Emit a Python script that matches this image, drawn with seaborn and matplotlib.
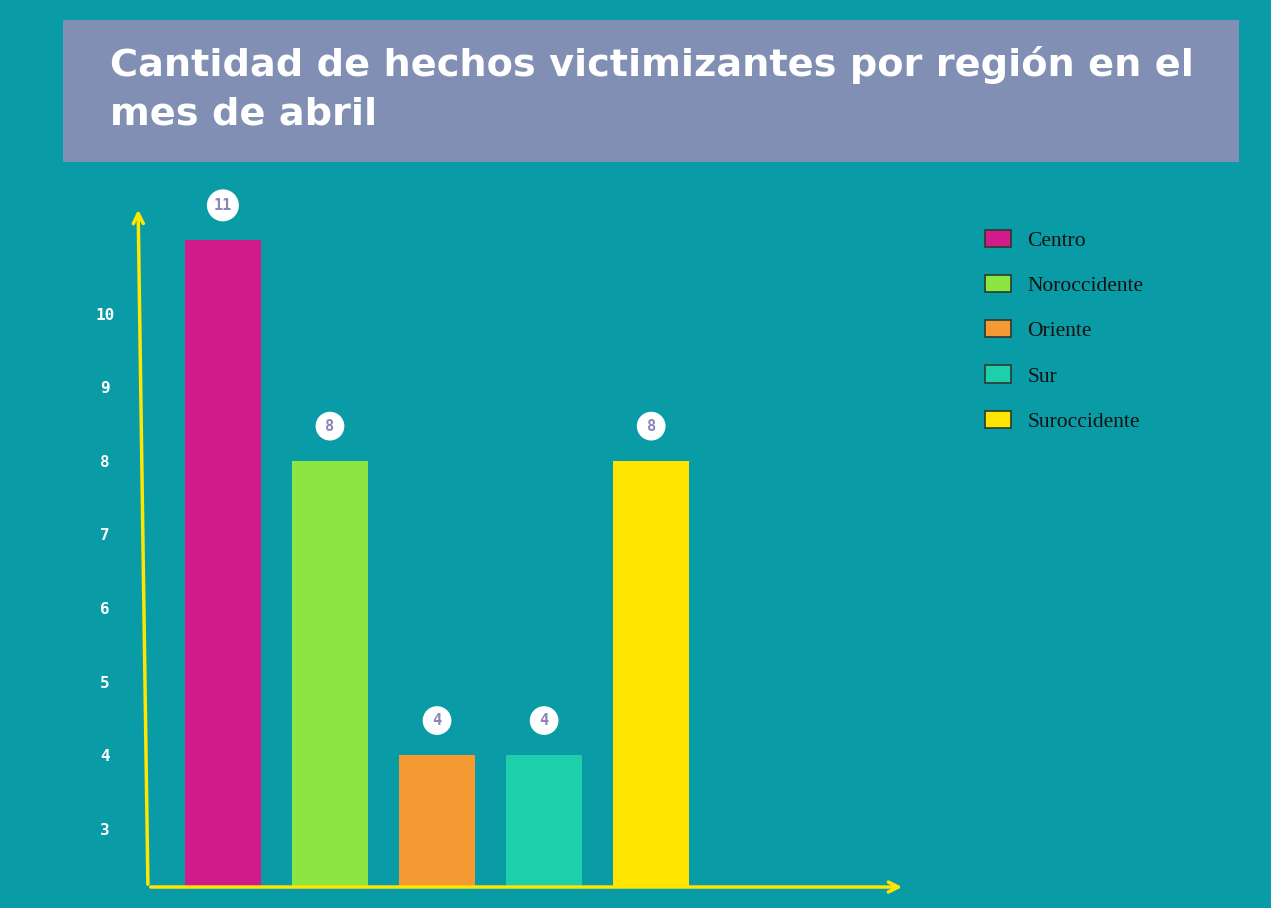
import matplotlib
matplotlib.use("Agg")
import matplotlib.pyplot as plt
from matplotlib.patches import Patch, Rectangle
import pandas as pd
import seaborn as sns

regions = ["Centro", "Noroccidente", "Oriente", "Sur", "Suroccidente"]
values = [11, 8, 4, 4, 8]
colors = ["#D21B8A", "#8BE641", "#F59A33", "#1DCFAB", "#FFE500"]
y_ticks = [3, 4, 5, 6, 7, 8, 9, 10]
title = "Cantidad de hechos victimizantes por región en el\nmes de abril"

BG = "#0A9CA6"
BOX = "#808FB3"
AXIS_YELLOW = "#FFE600"

df = pd.DataFrame({"region": regions, "hechos": values})

sns.set_theme(style="white")
fig = plt.figure(figsize=(12.71, 9.08), dpi=100, facecolor=BG)
ax = fig.add_axes([0.1164, 0.0231, 0.5956, 0.749])
ax.set_facecolor(BG)

sns.barplot(data=df, x="region", y="hechos", hue="region", palette=colors,
            width=0.71, saturation=1, legend=False, linewidth=0, ax=ax)

ax.set_xlim(-0.70, 6.37)
ax.set_ylim(2.21, 11.45)
ax.set_yticks(y_ticks)
ax.set_yticklabels([str(t) for t in y_ticks], color="white", fontweight="bold",
                   fontfamily="DejaVu Sans Mono", fontsize=11.5, ha="center")
ax.tick_params(axis="y", length=0, pad=31)
ax.set_xticks([])
ax.set_xlabel("")
ax.set_ylabel("")
for s in ax.spines.values():
    s.set_visible(False)

# yellow arrow axes
arrow = dict(arrowstyle="->", color=AXIS_YELLOW, lw=2.5, mutation_scale=18)
ax.annotate("", xy=(-0.013, 1.0), xytext=(0.0, 0.0), xycoords="axes fraction",
            textcoords="axes fraction", arrowprops=arrow, annotation_clip=False)
ax.annotate("", xy=(1.0, 0.0), xytext=(0.0, 0.0), xycoords="axes fraction",
            textcoords="axes fraction", arrowprops=arrow, annotation_clip=False)

# value labels in white circles
for i, v in enumerate(values):
    ax.annotate(str(v), xy=(i, v), xytext=(0, 25), textcoords="offset points",
                ha="center", va="center", color="#8A86B8", fontweight="bold",
                fontfamily="DejaVu Sans Mono", fontsize=11,
                bbox=dict(boxstyle="circle,pad=0.45", fc="white", ec="none"),
                annotation_clip=False)

# title box
fig.patches.append(Rectangle((0.0496, 0.8216), 0.925, 0.1564, transform=fig.transFigure,
                             facecolor=BOX, edgecolor="none", zorder=0))
fig.text(0.0866, 0.902, title, color="white", fontsize=27.5, fontweight="bold",
         fontfamily="DejaVu Sans", ha="left", va="center", linespacing=1.45)

handles = [Patch(facecolor=c, edgecolor="#2a3a30", linewidth=1.2, label=r)
           for r, c in zip(regions, colors)]
fig.legend(handles=handles, loc="upper left", bbox_to_anchor=(0.760, 0.768),
           frameon=False, prop={"family": "Liberation Serif", "size": 15.5},
           handlelength=1.2, handleheight=0.85, handletextpad=0.75,
           labelspacing=1.12, labelcolor="#111111")

fig.savefig("out.png", dpi=100, facecolor=BG)
